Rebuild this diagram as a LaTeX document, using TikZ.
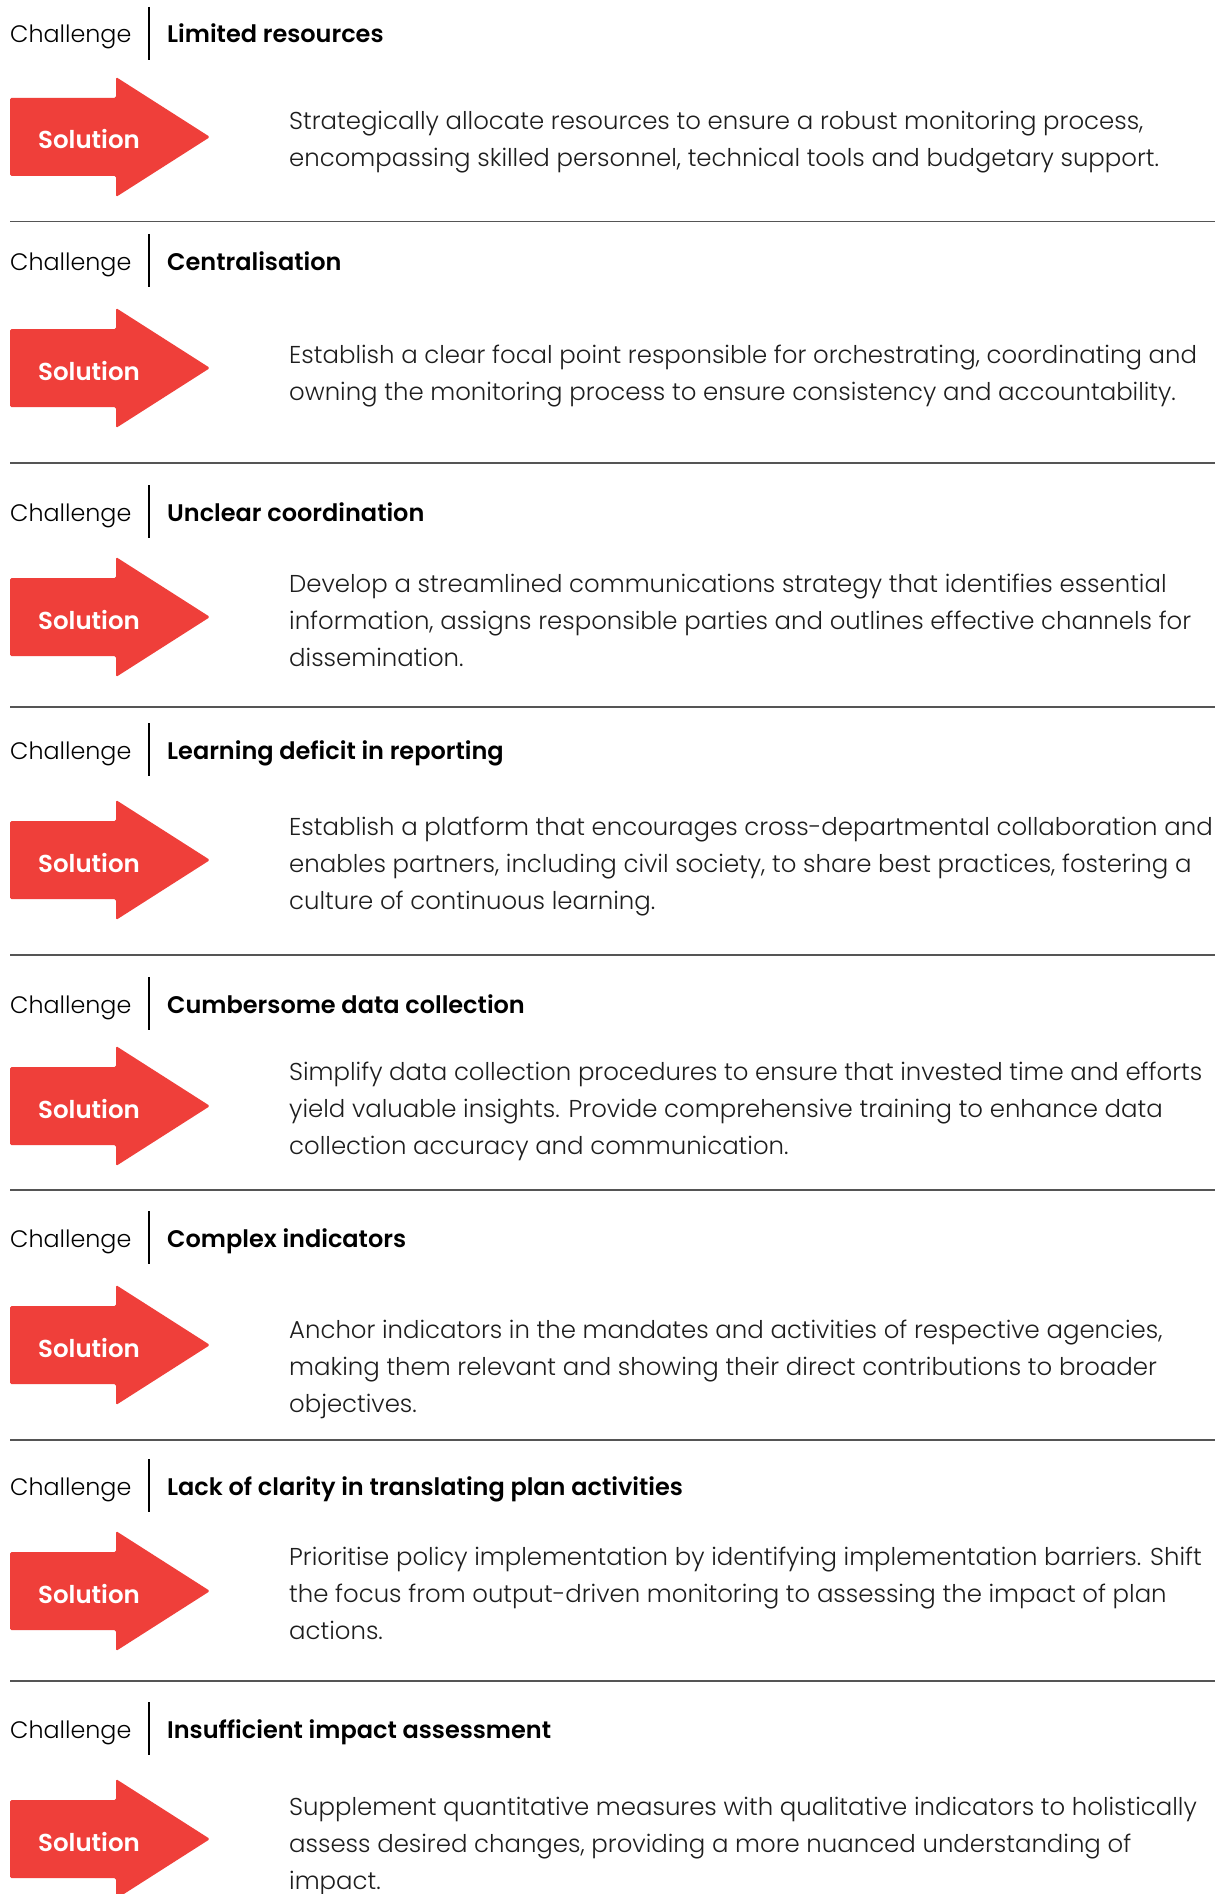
\documentclass[tikz,border=0pt]{standalone}
\usepackage{fontspec}
\IfFontExistsTF{Poppins Light}{\newfontfamily\lightf{Poppins Light}}{\newfontfamily\lightf{Poppins}}
\IfFontExistsTF{Poppins SemiBold}{\newfontfamily\boldf{Poppins SemiBold}}{\newfontfamily\boldf{Poppins}[UprightFont={* Bold}]}
\definecolor{solred}{HTML}{EF3F3A}
\definecolor{txt}{HTML}{1E1E1E}
\definecolor{sepgray}{HTML}{555555}
\newcommand\chalfont{\lightf\fontsize{23.8}{30}\selectfont}
\newcommand\titlefont{\boldf\fontsize{24}{30}\selectfont}
\newcommand\bodyfont{\lightf\fontsize{24.4}{37}\selectfont}
\newcommand\solfont{\boldf\fontsize{24.5}{30}\selectfont}
\newcommand\chsec[6]{%
  \node[chal] (ch#1) at (10,#2+36) {Challenge};
  \draw[vbar] (149,#2) -- (149,#2+53);
  \node[ctitle] (ti#1) at (167,#2+36) {#5};
  \fill[arr] (10,#3-39) -- (116,#3-39) -- (116,#3-60) -- (210,#3) -- (116,#3+60) -- (116,#3+39) -- (10,#3+39) -- cycle;
  \node[soltext] (so#1) at (89,#3+12) {Solution};
  \node[body] (bo#1) at (289,#4) {\parbox[t]{925pt}{\bodyfont #6}};
}
\begin{document}
\begin{tikzpicture}[x=1pt,y=-1pt,
  sep/.style={draw=sepgray, line width=1.6pt},
  vbar/.style={draw=black, line width=2.6pt},
  chal/.style={anchor=base west, inner sep=0pt, font=\chalfont, text=black},
  ctitle/.style={anchor=base west, inner sep=0pt, font=\titlefont, text=black},
  body/.style={anchor=base west, inner sep=0pt, font=\bodyfont, text=txt},
  arr/.style={fill=solred, rounded corners=1.5pt},
  soltext/.style={anchor=base, inner sep=0pt, font=\solfont, text=white}]
\useasboundingbox (0,0) rectangle (1215,1894);
\fill[white] (0,0) rectangle (1215,1894);

\chsec{1}{7}{137}{130}{Limited resources}{Strategically allocate resources to ensure a robust monitoring process,\\encompassing skilled personnel, technical tools and budgetary support.}
\draw[sep] (10,221.7) -- (1215,221.7);

\chsec{2}{234}{368}{363}{Centralisation}{Establish a clear focal point responsible for orchestrating, coordinating and\\owning the monitoring process to ensure consistency and accountability.}
\draw[sep] (10,463) -- (1215,463);

\chsec{3}{485}{617}{592}{Unclear coordination}{Develop a streamlined communications strategy that identifies essential\\information, assigns responsible parties and outlines effective channels for\\dissemination.}
\draw[sep] (10,706.7) -- (1215,706.7);

\chsec{4}{723}{860}{835}{Learning deficit in reporting}{Establish a platform that encourages cross-departmental collaboration and\\enables partners, including civil society, to share best practices, fostering a\\culture of continuous learning.}
\draw[sep] (10,955) -- (1215,955);

\chsec{5}{977}{1106}{1080}{Cumbersome data collection}{Simplify data collection procedures to ensure that invested time and efforts\\yield valuable insights. Provide comprehensive training to enhance data\\collection accuracy and communication.}
\draw[sep] (10,1190) -- (1215,1190);

\chsec{6}{1211}{1345}{1338}{Complex indicators}{Anchor indicators in the mandates and activities of respective agencies,\\making them relevant and showing their direct contributions to broader\\objectives.}
\draw[sep] (10,1440) -- (1215,1440);

\chsec{7}{1459}{1591}{1565}{Lack of clarity in translating plan activities}{Prioritise policy implementation by identifying implementation barriers. Shift\\the focus from output-driven monitoring to assessing the impact of plan\\actions.}
\draw[sep] (10,1681) -- (1215,1681);

\chsec{8}{1702}{1839}{1815}{Insufficient impact assessment}{Supplement quantitative measures with qualitative indicators to holistically\\assess desired changes, providing a more nuanced understanding of\\impact.}
\end{tikzpicture}
\end{document}
